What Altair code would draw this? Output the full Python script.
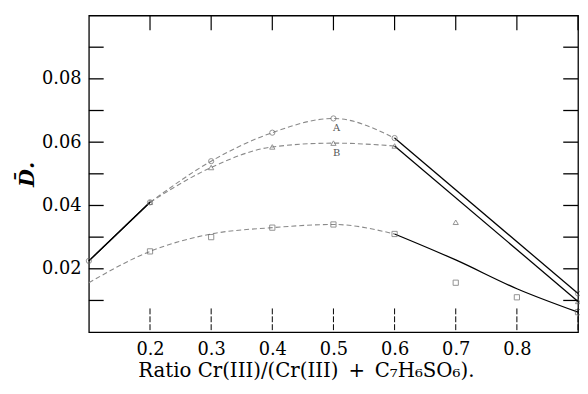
import altair as alt
import pandas as pd

# ---- data ----
a_x = [0.1, 0.2, 0.3, 0.4, 0.5, 0.6, 0.9]
a_y = [0.0225, 0.041, 0.054, 0.063, 0.0675, 0.0613, 0.0122]
b_x = [0.1, 0.2, 0.3, 0.4, 0.5, 0.6, 0.9]
b_y = [0.0225, 0.041, 0.052, 0.0585, 0.0597, 0.0588, 0.0097]
c_x = [0.1, 0.2, 0.3, 0.4, 0.5, 0.6, 0.7, 0.8, 0.9]
c_y = [0.0156, 0.0255, 0.031, 0.033, 0.034, 0.031, 0.0228, 0.0137, 0.0063]

ab_breaks = [0.2, 0.6]
ab_styles = ["solid", "dashed", "solid"]
c_breaks = [0.6]
c_styles = ["dashed", "solid"]

# marker points (series, x, y)
pt_series = ["A", "A", "A", "A", "A", "A", "A", "B", "B", "B", "B", "B", "B", "B",
             "C", "C", "C", "C", "C", "C", "C", "C"]
pt_x = [0.1, 0.2, 0.3, 0.4, 0.5, 0.6, 0.9, 0.2, 0.3, 0.4, 0.5, 0.6, 0.7, 0.9,
        0.2, 0.3, 0.4, 0.5, 0.6, 0.7, 0.8, 0.9]
pt_y = [0.0225, 0.041, 0.054, 0.063, 0.0675, 0.0613, 0.0122,
        0.041, 0.052, 0.0585, 0.0597, 0.0588, 0.0347, 0.0097,
        0.0255, 0.030, 0.033, 0.034, 0.031, 0.0156, 0.011, 0.0063]

ann_text = ["A", "B"]
ann_x = [0.505, 0.505]
ann_y = [0.0645, 0.0565]

x_tick_vals = [0.2, 0.3, 0.4, 0.5, 0.6, 0.7, 0.8, 0.9]
x_label_vals = [0.2, 0.3, 0.4, 0.5, 0.6, 0.7, 0.8]
y_tick_vals = [0.01, 0.02, 0.03, 0.04, 0.05, 0.06, 0.07, 0.08, 0.09]
y_label_vals = [0.02, 0.04, 0.06, 0.08]

x_title = "Ratio Cr(III)/(Cr(III)\u2002+\u2002C\u2087H\u2086SO\u2086)."
y_title = "D\u0304."


def segments(name, xs, ys, breaks, styles):
    bounds = [xs[0]] + breaks + [xs[-1]]
    rows = []
    for i, st in enumerate(styles):
        lo, hi = bounds[i], bounds[i + 1]
        for x, y in zip(xs, ys):
            if lo - 1e-9 <= x <= hi + 1e-9:
                rows.append({"series": name, "key": f"{name}{i}", "style": st, "x": x, "y": y})
    return rows


rows = (segments("A", a_x, a_y, ab_breaks, ab_styles)
        + segments("B", b_x, b_y, ab_breaks, ab_styles)
        + segments("C", c_x, c_y, c_breaks, c_styles))
lines_df = pd.DataFrame(rows)
pts_df = pd.DataFrame({"series": pt_series, "x": pt_x, "y": pt_y})
ann_df = pd.DataFrame({"t": ann_text, "x": ann_x, "y": ann_y})

W, H = 496, 321
SERIF = "DejaVu Serif"

xs = alt.Scale(domain=[0.1, 0.9], nice=False, zero=False)
ys = alt.Scale(domain=[0.0, 0.1], nice=False, zero=False)

x_axis = alt.Axis(values=x_label_vals, format=".1f", ticks=False, tickSize=0, domain=False,
                  grid=False, labelFont=SERIF, labelFontSize=18, labelColor="black",
                  labelPadding=9, title=x_title, titleFont=SERIF, titleFontSize=20,
                  titleFontWeight="normal", titleColor="black", titlePadding=2,
                  titleX=220, titleAlign="center")
y_axis = alt.Axis(values=y_label_vals, format=".2f", ticks=False, tickSize=0, domain=False,
                  grid=False, labelFont=SERIF, labelFontSize=18, labelColor="black",
                  labelPadding=8, title=y_title, titleFont=SERIF, titleFontSize=21,
                  titleFontStyle="italic", titleFontWeight="bold", titleColor="black",
                  titlePadding=4)

base = alt.Chart(lines_df)
dashed = base.mark_line(color="#8a8a8a", strokeWidth=1.1, strokeDash=[5, 3],
                        interpolate="monotone").encode(
    x=alt.X("x:Q", scale=xs, axis=x_axis),
    y=alt.Y("y:Q", scale=ys, axis=y_axis),
    detail="key:N",
).transform_filter(alt.datum.style == "dashed")
solid = base.mark_line(color="black", strokeWidth=1.3, interpolate="monotone").encode(
    x=alt.X("x:Q", scale=xs),
    y=alt.Y("y:Q", scale=ys),
    detail="key:N",
).transform_filter(alt.datum.style == "solid")

points = alt.Chart(pts_df).mark_point(filled=False, strokeWidth=1, color="#666666", size=28).encode(
    x=alt.X("x:Q", scale=xs),
    y=alt.Y("y:Q", scale=ys),
    shape=alt.Shape("series:N", scale=alt.Scale(domain=["A", "B", "C"],
                                                range=["circle", "triangle-up", "square"]),
                    legend=None),
)

ann = alt.Chart(ann_df).mark_text(font=SERIF, fontSize=10, color="#555555").encode(
    x=alt.X("x:Q", scale=xs),
    y=alt.Y("y:Q", scale=ys),
    text="t:N",
)

xt = pd.DataFrame({"v": x_tick_vals})
yt = pd.DataFrame({"v": y_tick_vals})
tick_col = "black"
top_ticks = alt.Chart(xt).mark_rule(color=tick_col, strokeWidth=1.2).encode(
    x=alt.X("v:Q", scale=xs), y=alt.value(0), y2=alt.value(15))
bot_ticks = alt.Chart(xt).mark_rule(color=tick_col, strokeWidth=1.0, strokeDash=[6, 2]).encode(
    x=alt.X("v:Q", scale=xs), y=alt.value(H - 24), y2=alt.value(H))
left_ticks = alt.Chart(yt).mark_rule(color=tick_col, strokeWidth=1.3).encode(
    y=alt.Y("v:Q", scale=ys), x=alt.value(0), x2=alt.value(15))
right_ticks = alt.Chart(yt).mark_rule(color=tick_col, strokeWidth=1.3).encode(
    y=alt.Y("v:Q", scale=ys), x=alt.value(W - 15), x2=alt.value(W))

chart = alt.layer(
    dashed, solid, points, ann, top_ticks, bot_ticks, left_ticks, right_ticks
).properties(
    width=W, height=H,
    autosize=alt.AutoSizeParams(type="none"),
    padding={"left": 82, "top": 5, "right": 2, "bottom": 52},
    background="white",
).configure_view(stroke="black", strokeWidth=1.3)

chart.save("out.html", embed_options={"renderer": "svg", "actions": False})
